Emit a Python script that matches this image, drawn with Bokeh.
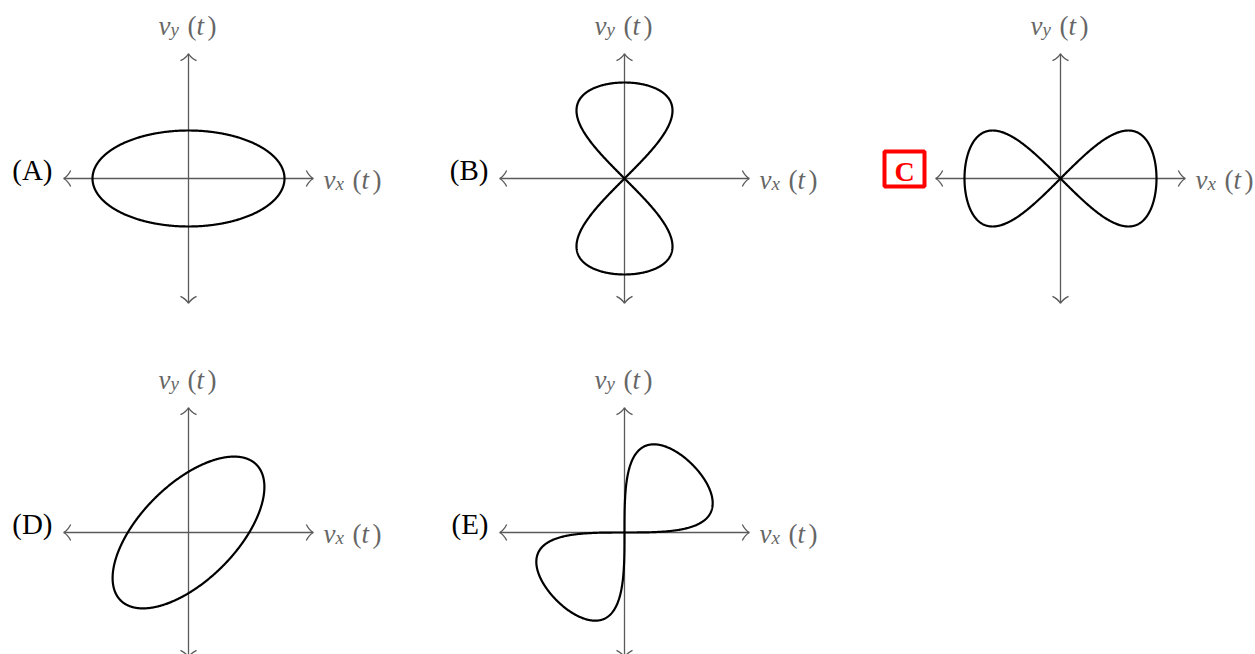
import numpy as np
from bokeh.plotting import figure
from bokeh.models import Range1d
from bokeh.core.properties import value
from bokeh.embed import file_html
from bokeh.resources import INLINE

# Answer choices for the velocity trace (v_x(t), v_y(t)); the chosen one is boxed
panel_labels = ["A", "B", "C", "D", "E"]
highlighted = "C"

# Each trace: v_x = amp_x*sin(freq_x*t + phase_x), v_y = amp_y*sin(freq_y*t + phase_y),
# then the whole trace is turned by tilt_deg about the origin
amp_x = [2.0, 1.0, 2.0, 2.0, 2.0]
amp_y = [1.0, 2.0, 1.0, 1.0, 1.0]
freq_x = [1, 2, 1, 1, 1]
freq_y = [1, 1, 2, 1, 2]
phase_x = [np.pi / 2, 0.0, 0.0, np.pi / 2, 0.0]
phase_y = [0.0, 0.0, 0.0, 0.0, 0.0]
tilt_deg = [0, 0, 0, 45, 45]

AXIS_HALF = 2.6          # half-length of each velocity axis (velocity units)

# ---- layout (pixels) ----
W, H = 1255, 654
PX = 48.0                # pixels per velocity unit
col_px = [188, 624, 1060]
row_px = [178, 532]
grid_pos = [(0, 0), (1, 0), (2, 0), (0, 1), (1, 1)]
TEXT_DY = -7             # nudge so text baselines sit where intended

AXIS_COLOR = "#5a5a5a"
LABEL_COLOR = "#666666"
SERIF = value("Liberation Serif")

p = figure(width=W, height=H, x_range=Range1d(0, W / PX), y_range=Range1d(-H / PX, 0),
           output_backend="svg", toolbar_location=None, min_border=0,
           x_axis_type=None, y_axis_type=None)
p.grid.visible = False
p.outline_line_color = None
p.background_fill_color = "white"
p.border_fill_color = "white"


def to_data(cx_px, cy_px, dx_px=0.0, dy_px=0.0):
    """panel centre in pixels plus pixel offset (down = positive) -> data coords"""
    return (cx_px + dx_px) / PX, -(cy_px + dy_px) / PX


t = np.linspace(0, 2 * np.pi, 721)

# axes: shafts
xs_ax, ys_ax = [], []
# arrowheads as curved barbs
q_x0, q_y0, q_x1, q_y1, q_cx, q_cy = [], [], [], [], [], []
BACK, SIDE, CB, CS = 7.0, 8.0, 4.0, 2.2   # barb geometry in px

for i, lab in enumerate(panel_labels):
    c, r = grid_pos[i]
    cx, cy = col_px[c], row_px[r]
    ox, oy = to_data(cx, cy)
    xs_ax += [[ox - AXIS_HALF, ox + AXIS_HALF], [ox, ox]]
    ys_ax += [[oy, oy], [oy - AXIS_HALF, oy + AXIS_HALF]]
    for ux, uy in [(1, 0), (-1, 0), (0, 1), (0, -1)]:
        tx, ty = ox + ux * AXIS_HALF, oy + uy * AXIS_HALF
        nx, ny = -uy, ux
        for s in (1, -1):
            q_x0.append(tx)
            q_y0.append(ty)
            q_x1.append(tx + (-ux * BACK + s * nx * SIDE) / PX)
            q_y1.append(ty + (-uy * BACK + s * ny * SIDE) / PX)
            q_cx.append(tx + (-ux * CB + s * nx * CS) / PX)
            q_cy.append(ty + (-uy * CB + s * ny * CS) / PX)

p.multi_line(xs=xs_ax, ys=ys_ax, line_color=AXIS_COLOR, line_width=1.3)
p.quadratic(x0=q_x0, y0=q_y0, x1=q_x1, y1=q_y1, cx=q_cx, cy=q_cy,
            line_color=AXIS_COLOR, line_width=1.3)

# velocity traces
curve_xs, curve_ys = [], []
for i in range(len(panel_labels)):
    c, r = grid_pos[i]
    ox, oy = to_data(col_px[c], row_px[r])
    vx = amp_x[i] * np.sin(freq_x[i] * t + phase_x[i])
    vy = amp_y[i] * np.sin(freq_y[i] * t + phase_y[i])
    a = np.deg2rad(tilt_deg[i])
    rx = vx * np.cos(a) - vy * np.sin(a)
    ry = vx * np.sin(a) + vy * np.cos(a)
    curve_xs.append(ox + rx)
    curve_ys.append(oy + ry)
p.multi_line(xs=curve_xs, ys=curve_ys, line_color="black", line_width=2.2,
             line_join="round")

# axis titles v_x(t) and v_y(t), set piece by piece
MAIN_FS, SUB_FS = "27px", "19px"
pieces = {"v": [], "sub": [], "open": [], "t": [], "close": []}
offsets = {"v": 0, "sub": 12, "open": 29, "t": 38, "close": 49}


def add_title(sub, x0_px, base_px):
    for key, txt in (("v", "v"), ("sub", sub), ("open", "("), ("t", "t"), ("close", ")")):
        dy = 4 if key == "sub" else 0
        x, y = (x0_px + offsets[key]) / PX, -(base_px + dy + TEXT_DY) / PX
        pieces[key].append((x, y, txt))


for i in range(len(panel_labels)):
    c, r = grid_pos[i]
    cx, cy = col_px[c], row_px[r]
    add_title("x", cx + 135, cy + 8)
    add_title("y", cx - 30, cy - 146)

for key, items in pieces.items():
    italic = key in ("v", "sub", "t")
    p.text(x=[a[0] for a in items], y=[a[1] for a in items], text=[a[2] for a in items],
           text_font=SERIF, text_font_style="italic" if italic else "normal",
           text_font_size=SUB_FS if key == "sub" else MAIN_FS,
           text_color=LABEL_COLOR, text_align="left", text_baseline="alphabetic")

# choice letters
plain_x, plain_y, plain_t = [], [], []
for i, lab in enumerate(panel_labels):
    c, r = grid_pos[i]
    cx, cy = col_px[c], row_px[r]
    if lab == highlighted:
        bx, by = to_data(cx, cy, -156, -9.5)
        p.rect(x=[bx], y=[by], width=40 / PX, height=35 / PX, fill_color=None,
               line_color="#ff0000", line_width=4)
        tx, ty = to_data(cx, cy, -156, 0 + TEXT_DY)
        p.text(x=[tx], y=[ty], text=[lab], text_font=SERIF, text_font_style="bold",
               text_font_size="28px", text_color="#ff0000",
               text_align="center", text_baseline="alphabetic")
    else:
        lx, ly = to_data(cx, cy, -136, -2 + TEXT_DY)
        plain_x.append(lx)
        plain_y.append(ly)
        plain_t.append("(" + lab + ")")

p.text(x=plain_x, y=plain_y, text=plain_t, text_font=SERIF, text_font_size="29px",
       text_color="black", text_align="right", text_baseline="alphabetic")

open("out.html", "w").write(file_html(p, INLINE))
